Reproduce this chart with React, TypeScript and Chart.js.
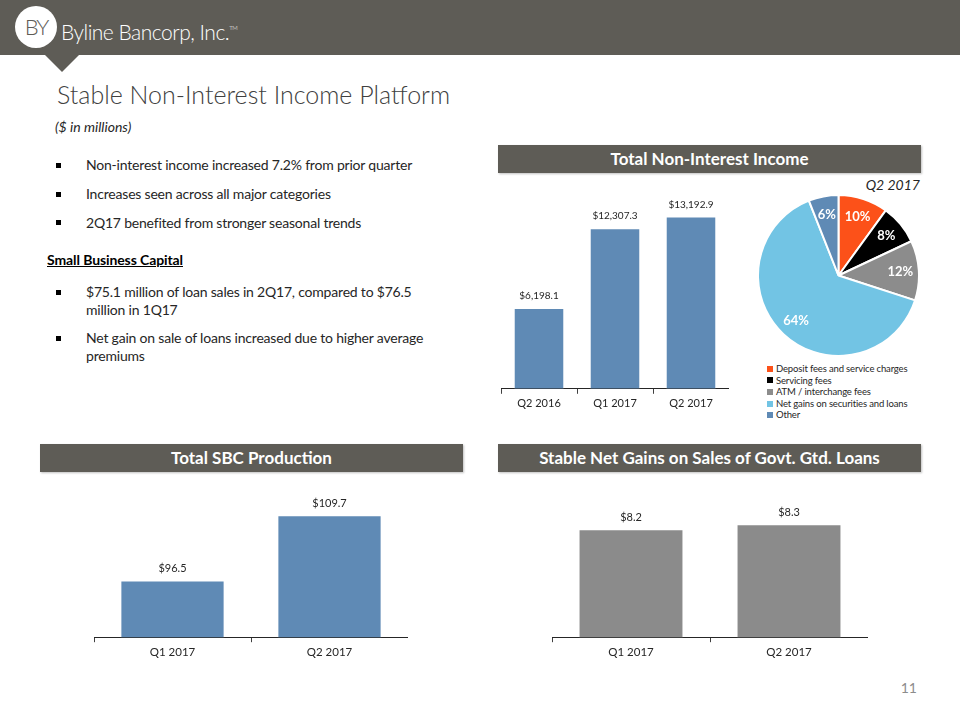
import React, { useEffect, useRef } from "react";
import { Chart, registerables } from "chart.js";

Chart.register(...registerables);

const FONT = "Lato, 'Open Sans', sans-serif";
const HEADER_GRAY = "#5E5C56";
const TEXT_DARK = "#262626";

// ---------- data ----------
const incomeQuarters = ["Q2 2016", "Q1 2017", "Q2 2017"];
const incomeValues = [6198.1, 12307.3, 13192.9];
const incomeAxisRange = [0, 15000];

const mixLabels = [
  "Deposit fees and service charges",
  "Servicing fees",
  "ATM / interchange fees",
  "Net gains on securities and loans",
  "Other",
];
const mixShares = [10, 8, 12, 64, 6];
const mixColors = ["#FC5119", "#000000", "#8C8C8C", "#72C4E4", "#5F8AB5"];

const sbcQuarters = ["Q1 2017", "Q2 2017"];
const sbcValues = [96.5, 109.7];
const sbcAxisRange = [85, 115];

const gainQuarters = ["Q1 2017", "Q2 2017"];
const gainValues = [8.2, 8.3];
const gainAxisRange = [6, 9];

const headlineBullets = [
  "Non-interest income increased 7.2% from prior quarter",
  "Increases seen across all major categories",
  "2Q17 benefited from stronger seasonal trends",
];
const sbcBullets = [
  ["$75.1 million of loan sales in 2Q17, compared to $76.5", "million in 1Q17"],
  ["Net gain on sale of loans increased due to higher average", "premiums"],
];

// ---------- helpers ----------
const money = (v: number) =>
  "$" + v.toLocaleString("en-US", { minimumFractionDigits: 1, maximumFractionDigits: 1 });

function makeValueLabelPlugin(fontSize: number, offset: number) {
  return {
    id: "valueLabels",
    afterDatasetsDraw(chart: any) {
      const ctx = chart.ctx;
      chart.data.datasets.forEach((ds: any, di: number) => {
        chart.getDatasetMeta(di).data.forEach((el: any, i: number) => {
          ctx.save();
          ctx.font = `${fontSize}px ${FONT}`;
          ctx.fillStyle = TEXT_DARK;
          ctx.textAlign = "center";
          ctx.textBaseline = "middle";
          ctx.fillText(money(ds.data[i]), el.x, el.y - offset);
          ctx.restore();
        });
      });
    },
  };
}

const pieLabelPlugin = {
  id: "pieLabels",
  afterDatasetsDraw(chart: any) {
    const ctx = chart.ctx;
    const ds = chart.data.datasets[0];
    chart.getDatasetMeta(0).data.forEach((arc: any, i: number) => {
      const p = arc.getProps(["x", "y", "startAngle", "endAngle", "outerRadius"], true);
      const mid = (p.startAngle + p.endAngle) / 2;
      const r = p.outerRadius * 0.77;
      ctx.save();
      ctx.font = `bold 13px ${FONT}`;
      ctx.fillStyle = "#FFFFFF";
      ctx.textAlign = "center";
      ctx.textBaseline = "middle";
      ctx.fillText(ds.data[i] + "%", p.x + Math.cos(mid) * r, p.y + Math.sin(mid) * r);
      ctx.restore();
    });
  },
};

type BarProps = {
  labels: string[];
  values: number[];
  range: number[];
  color: string;
  left: number;
  top: number;
  width: number;
  height: number;
  tickSize: number;
  valueSize: number;
  barPct: number;
};

function BarChart(p: BarProps) {
  const ref = useRef<HTMLCanvasElement>(null);
  useEffect(() => {
    if (!ref.current) return;
    const chart = new Chart(ref.current, {
      type: "bar",
      data: {
        labels: p.labels,
        datasets: [
          {
            data: p.values,
            backgroundColor: p.color,
            borderColor: "rgba(255,255,255,0.25)",
            borderWidth: 1,
            barPercentage: p.barPct,
            categoryPercentage: 1,
          },
        ],
      },
      options: {
        animation: false,
        responsive: false,
        maintainAspectRatio: false,
        devicePixelRatio: 1,
        layout: { padding: 0 },
        plugins: { legend: { display: false }, tooltip: { enabled: false } },
        scales: {
          x: {
            grid: {
              display: true,
              drawOnChartArea: false,
              drawTicks: true,
              tickLength: 5,
              tickColor: "#404040",
              color: "#404040",
              offset: true,
            },
            border: { display: true, color: "#262626", width: 1 },
            ticks: { color: TEXT_DARK, font: { family: FONT, size: p.tickSize }, padding: 3 },
          },
          y: { display: false, min: p.range[0], max: p.range[1] },
        },
      },
      plugins: [makeValueLabelPlugin(p.valueSize, 12)],
    } as any);
    return () => chart.destroy();
  }, []);
  return (
    <canvas
      ref={ref}
      width={p.width}
      height={p.height}
      style={{ position: "absolute", left: p.left, top: p.top, width: p.width, height: p.height }}
    />
  );
}

function PieChart() {
  const ref = useRef<HTMLCanvasElement>(null);
  useEffect(() => {
    if (!ref.current) return;
    const chart = new Chart(ref.current, {
      type: "pie",
      data: {
        labels: mixLabels,
        datasets: [
          {
            data: mixShares,
            backgroundColor: mixColors,
            borderColor: "#FFFFFF",
            borderWidth: 2,
          },
        ],
      },
      options: {
        animation: false,
        responsive: false,
        maintainAspectRatio: false,
        devicePixelRatio: 1,
        layout: { padding: 0 },
        plugins: { legend: { display: false }, tooltip: { enabled: false } },
      },
      plugins: [pieLabelPlugin],
    } as any);
    return () => chart.destroy();
  }, []);
  return (
    <canvas
      ref={ref}
      width={163}
      height={163}
      style={{ position: "absolute", left: 757, top: 194, width: 163, height: 163 }}
    />
  );
}

function SectionHeader({ left, top, text }: { left: number; top: number; text: string }) {
  return (
    <div
      style={{
        position: "absolute",
        left,
        top,
        width: 423,
        height: 28,
        background: HEADER_GRAY,
        color: "#FFFFFF",
        fontFamily: FONT,
        fontWeight: 700,
        fontSize: 17,
        lineHeight: "28px",
        textAlign: "center",
        boxShadow: "1px 1px 2px rgba(0,0,0,0.25)",
      }}
    >
      {text}
    </div>
  );
}

function Bullet({ top, lines }: { top: number; lines: string[] }) {
  return (
    <>
      <div
        style={{
          position: "absolute",
          left: 56,
          top: top + 9 - 2.5,
          width: 5,
          height: 5,
          background: "#000",
        }}
      />
      <div
        style={{
          position: "absolute",
          left: 86,
          top,
          fontFamily: FONT,
          fontSize: 14,
          letterSpacing: -0.2,
          lineHeight: "18px",
          color: TEXT_DARK,
          whiteSpace: "nowrap",
        }}
      >
        {lines.map((l, i) => (
          <div key={i}>{l}</div>
        ))}
      </div>
    </>
  );
}

export default function App() {
  const headlineCenters = [165, 194, 222.5];
  const sbcTops = [283, 329];
  return (
    <div
      style={{
        position: "absolute",
        left: 0,
        top: 0,
        width: 960,
        height: 720,
        background: "#FFFFFF",
        overflow: "hidden",
        fontFamily: FONT,
      }}
    >
      {/* top banner */}
      <div style={{ position: "absolute", left: 0, top: 0, width: 960, height: 55, background: HEADER_GRAY }} />
      <div
        style={{
          position: "absolute",
          left: 45,
          top: 55,
          width: 0,
          height: 0,
          borderLeft: "17px solid transparent",
          borderRight: "17px solid transparent",
          borderTop: `17px solid ${HEADER_GRAY}`,
        }}
      />
      <div
        style={{
          position: "absolute",
          left: 15,
          top: 6,
          width: 42,
          height: 42,
          borderRadius: "50%",
          background: "#FFFFFF",
          color: HEADER_GRAY,
          fontFamily: FONT,
          fontWeight: 300,
          fontSize: 22,
          lineHeight: "42px",
          textAlign: "center",
          letterSpacing: -2,
        }}
      >
        BY
      </div>
      <div
        style={{
          position: "absolute",
          left: 61,
          top: 15,
          color: "#FFFFFF",
          fontFamily: FONT,
          fontWeight: 300,
          fontSize: 21,
          lineHeight: "26px",
          letterSpacing: -0.5,
          whiteSpace: "nowrap",
        }}
      >
        Byline Bancorp, Inc.<span style={{ fontSize: 6, verticalAlign: 10 }}>TM</span>
      </div>

      {/* title */}
      <div
        style={{
          position: "absolute",
          left: 57,
          top: 78,
          color: "#404040",
          fontFamily: FONT,
          fontWeight: 300,
          fontSize: 25,
          lineHeight: "32px",
          whiteSpace: "nowrap",
        }}
      >
        Stable Non-Interest Income Platform
      </div>
      <div
        style={{
          position: "absolute",
          left: 55,
          top: 118,
          color: TEXT_DARK,
          fontFamily: FONT,
          fontStyle: "italic",
          fontSize: 14,
          lineHeight: "18px",
        }}
      >
        ($ in millions)
      </div>

      {headlineBullets.map((b, i) => (
        <Bullet key={i} top={headlineCenters[i] - 9} lines={[b]} />
      ))}
      <div
        style={{
          position: "absolute",
          left: 47,
          top: 251,
          color: "#000",
          fontFamily: FONT,
          fontWeight: 700,
          fontSize: 14,
          letterSpacing: -0.1,
          lineHeight: "18px",
          textDecoration: "underline",
        }}
      >
        Small Business Capital
      </div>
      {sbcBullets.map((b, i) => (
        <Bullet key={i} top={sbcTops[i]} lines={b} />
      ))}

      {/* section headers */}
      <SectionHeader left={498} top={145} text="Total Non-Interest Income" />
      <SectionHeader left={40} top={444} text="Total SBC Production" />
      <SectionHeader left={498} top={444} text="Stable Net Gains on Sales of Govt. Gtd. Loans" />

      {/* total non-interest income bar chart */}
      <BarChart
        labels={incomeQuarters}
        values={incomeValues}
        range={incomeAxisRange}
        color="#5F8AB5"
        left={501}
        top={193}
        width={228}
        height={220}
        tickSize={11}
        valueSize={10}
        barPct={0.665}
      />

      {/* pie */}
      <div
        style={{
          position: "absolute",
          left: 860,
          top: 176,
          width: 60,
          textAlign: "right",
          color: TEXT_DARK,
          fontFamily: FONT,
          fontStyle: "italic",
          fontSize: 14,
          lineHeight: "18px",
        }}
      >
        Q2 2017
      </div>
      <PieChart />
      <div
        style={{
          position: "absolute",
          left: 767,
          top: 363,
          fontFamily: FONT,
          fontSize: 9.5,
          letterSpacing: -0.15,
          color: TEXT_DARK,
        }}
      >
        {mixLabels.map((l, i) => (
          <div
            key={i}
            style={{ height: 11.6, lineHeight: "11.6px", whiteSpace: "nowrap", display: "flex", alignItems: "center" }}
          >
            <span style={{ display: "inline-block", width: 6, height: 6, background: mixColors[i], marginRight: 3 }} />
            {l}
          </div>
        ))}
      </div>

      {/* SBC production */}
      <BarChart
        labels={sbcQuarters}
        values={sbcValues}
        range={sbcAxisRange}
        color="#5F8AB5"
        left={94}
        top={489}
        width={314}
        height={173}
        tickSize={11.5}
        valueSize={11}
        barPct={0.664}
      />

      {/* net gains */}
      <BarChart
        labels={gainQuarters}
        values={gainValues}
        range={gainAxisRange}
        color="#8B8B8B"
        left={552}
        top={490}
        width={316}
        height={172}
        tickSize={11.5}
        valueSize={11}
        barPct={0.664}
      />

      <div
        style={{
          position: "absolute",
          left: 880,
          top: 679,
          width: 37,
          textAlign: "right",
          color: "#8C8C8C",
          fontFamily: FONT,
          fontSize: 14,
          lineHeight: "18px",
        }}
      >
        11
      </div>
    </div>
  );
}
